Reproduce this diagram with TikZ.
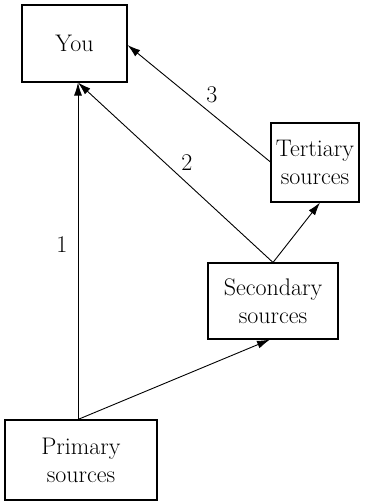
\documentclass[tikz,border=0pt]{standalone}
\usetikzlibrary{arrows.meta}
\begin{document}
\begin{tikzpicture}[x=1pt,y=-1pt,
  box/.style={draw, line width=1.1pt, inner sep=0pt, align=center,
    font=\rmfamily\fontsize{24}{28}\selectfont},
  arr/.style={line width=0.9pt, -{Latex[length=13pt,width=8pt]}},
  lab/.style={font=\rmfamily\fontsize{24}{26}\selectfont, inner sep=0pt}]
\useasboundingbox (0,0) rectangle (370,502);
\node[box, minimum width=105pt, minimum height=77pt] (Y) at (74.5,43.5) {You};
\node[box, minimum width=88pt, minimum height=79pt] (T) at (315,162.5) {Tertiary\\sources};
\node[box, minimum width=130pt, minimum height=76pt] (S) at (273,301) {Secondary\\sources};
\node[box, minimum width=152pt, minimum height=80pt] (P) at (81,460) {Primary\\sources};
\coordinate (Yb) at ([xshift=3.5pt]Y.south);
\coordinate (Pt) at ([xshift=-3pt]P.north);
\coordinate (Ye) at ([yshift=-1.5pt]Y.east);
\coordinate (Tw) at (T.west |- 0,162);
\coordinate (St) at (S.north);
\coordinate (Sb) at ([xshift=-3pt]S.south);
\coordinate (Tb) at ([xshift=5pt]T.south);
\draw[arr] (Pt) -- (Yb);
\draw[arr] (St) -- (Yb);
\draw[arr] (Tw) -- (Ye);
\draw[arr] (St) -- (Tb);
\draw[arr] (Pt) -- (Sb);
\node[lab] (l1) at (62,245) {1};
\node[lab] (l2) at (187,163) {2};
\node[lab] (l3) at (212,95) {3};
\end{tikzpicture}
\end{document}
